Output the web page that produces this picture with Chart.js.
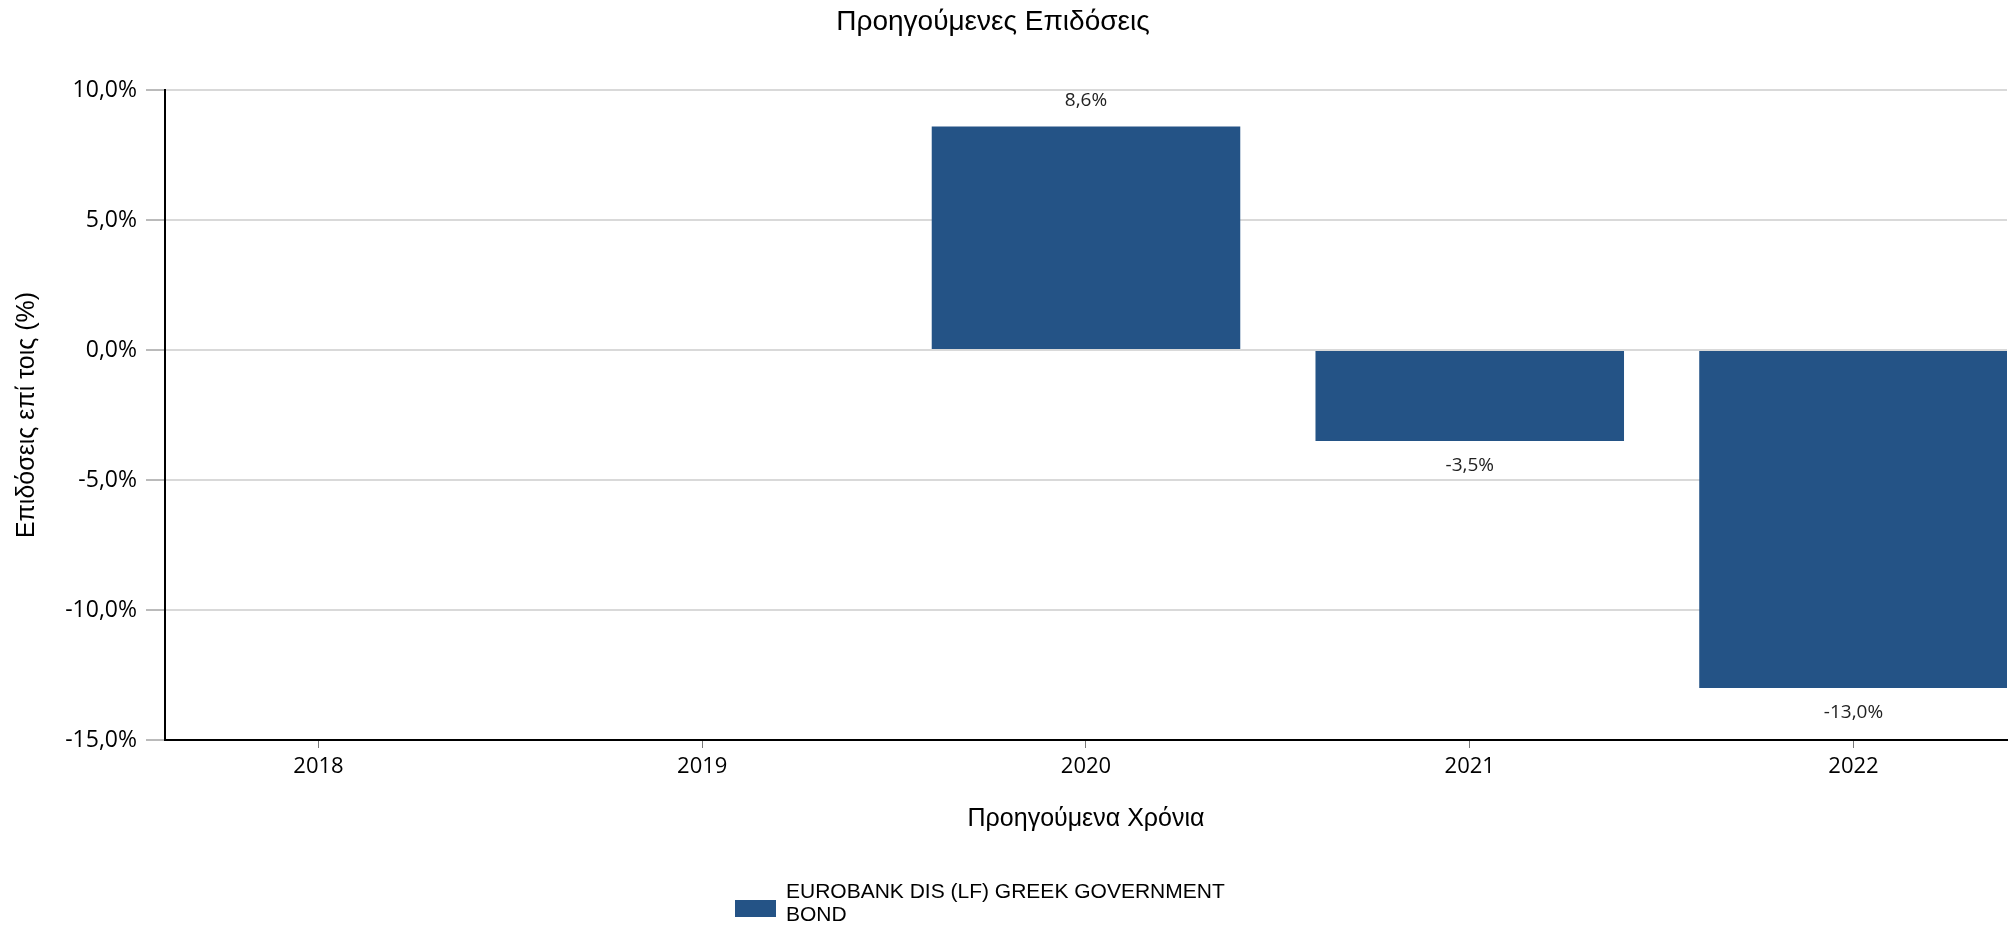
<!DOCTYPE html>
<html>
<head>
<meta charset="utf-8">
<script src="https://cdn.jsdelivr.net/npm/chart.js@4.4.0/dist/chart.umd.min.js"></script>
<style>
html,body{margin:0;padding:0;background:#fff;}
#wrap{width:2015px;height:931px;position:relative;}
</style>
</head>
<body>
<div id="wrap"><canvas id="c" width="2015" height="931"></canvas></div>
<script>
const categories = ['2018', '2019', '2020', '2021', '2022'];
const seriesName = 'EUROBANK DIS (LF) GREEK GOVERNMENT BOND';
const seriesValues = [null, null, 8.6, -3.5, -13.0];
const yTicks = [-15, -10, -5, 0, 5, 10];
const titleText = 'Προηγούμενες Επιδόσεις';
const xTitle = 'Προηγούμενα Χρόνια';
const yTitle = 'Επιδόσεις επί τοις (%)';
const legendLines = ['EUROBANK DIS (LF) GREEK GOVERNMENT', 'BOND'];
const barColor = '#245386';

const fmt = v => v.toFixed(1).replace('.', ',') + '%';
const tickFont = '"Open Sans", "Noto Sans", sans-serif';
const textFont = '"Liberation Sans", Arial, sans-serif';

const overlay = {
  id: 'overlay',
  afterDatasetsDraw(chart) {
    const ctx = chart.ctx;
    const meta = chart.getDatasetMeta(0);
    ctx.save();
    ctx.font = '19px ' + tickFont;
    ctx.fillStyle = '#222';
    ctx.textAlign = 'center';
    ctx.textBaseline = 'middle';
    meta.data.forEach((bar, i) => {
      const v = seriesValues[i];
      if (v === null || v === undefined) return;
      const y = v >= 0 ? bar.y - 26 : bar.y + 25;
      ctx.fillText(fmt(v), bar.x, y);
    });
    ctx.restore();
  },
  afterDraw(chart) {
    const ctx = chart.ctx;
    ctx.save();
    ctx.font = '28px ' + textFont;
    ctx.fillStyle = '#000';
    ctx.textAlign = 'center';
    ctx.textBaseline = 'middle';
    ctx.fillText(titleText, 993, 22);
    ctx.fillStyle = barColor;
    ctx.fillRect(735, 900, 41, 17);
    ctx.fillStyle = '#000';
    ctx.font = '21px ' + textFont;
    ctx.textAlign = 'left';
    ctx.fillText(legendLines[0], 786, 892);
    ctx.fillText(legendLines[1], 786, 915);
    ctx.restore();
  }
};

new Chart(document.getElementById('c'), {
  type: 'bar',
  data: {
    datasets: [{
      label: seriesName,
      data: categories.map((c, i) => ({ x: i, y: seriesValues[i] })),
      backgroundColor: barColor,
      borderWidth: 0,
      categoryPercentage: 1.0,
      barPercentage: 0.804
    }]
  },
  options: {
    responsive: false,
    animation: false,
    devicePixelRatio: 1,
    layout: { padding: { left: 0, right: 8, top: 90, bottom: 81 } },
    plugins: {
      legend: { display: false },
      title: { display: false },
      tooltip: { enabled: false }
    },
    scales: {
      x: {
        type: 'linear',
        min: -0.4,
        max: 4.4,
        offset: false,
        afterFit(s) { s.height = 110; },
        afterBuildTicks(s) { s.ticks = categories.map((c, i) => ({ value: i })); },
        grid: { display: true, offset: false, drawOnChartArea: false, drawTicks: true, tickLength: 8, tickColor: '#777', tickWidth: 1 },
        border: { display: true, color: '#000', width: 2 },
        ticks: {
          color: '#000',
          padding: 6,
          autoSkip: false,
          maxRotation: 0,
          font: { family: tickFont, size: 22 },
          callback: v => categories[v]
        },
        title: {
          display: true,
          text: xTitle,
          color: '#000',
          font: { family: textFont, size: 25 },
          padding: { top: 4, bottom: 16 }
        }
      },
      y: {
        min: -15,
        max: 10,
        afterFit(s) { s.width = 165; },
        afterBuildTicks(s) { s.ticks = yTicks.map(v => ({ value: v })); },
        grid: {
          color: '#d9d9d9',
          lineWidth: 2,
          tickLength: 19,
          tickColor: '#777',
          tickWidth: 1
        },
        border: { display: true, color: '#000', width: 2 },
        ticks: {
          color: '#000',
          padding: 9,
          font: { family: tickFont, size: 23 },
          callback: v => fmt(v)
        },
        title: {
          display: true,
          text: yTitle,
          color: '#000',
          font: { family: textFont, size: 25 },
          padding: { top: 12, bottom: 0 }
        }
      }
    }
  },
  plugins: [overlay]
});
</script>
</body>
</html>
